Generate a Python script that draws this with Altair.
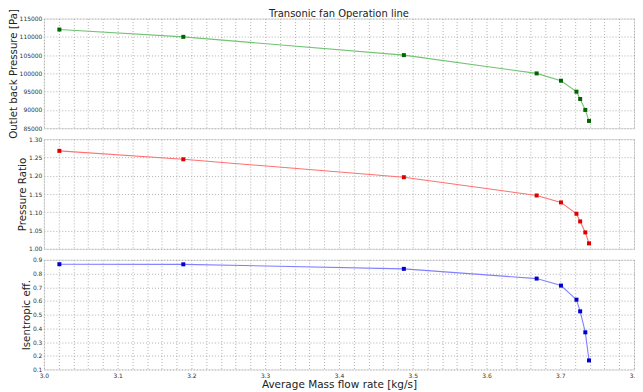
import altair as alt
import pandas as pd

mass_flow = [3.021, 3.189, 3.488, 3.668, 3.701, 3.722, 3.727, 3.734, 3.739]
back_pressure = [112000, 110000, 105000, 100000, 98000, 95000, 93000, 90000, 87000]
pressure_ratio = [1.268, 1.245, 1.196, 1.146, 1.127, 1.096, 1.075, 1.045, 1.015]
isen_eff = [0.868, 0.867, 0.834, 0.763, 0.712, 0.609, 0.524, 0.371, 0.166]
chart_title = ["Transonic fan Operation line"]

x_grid = [round(3.0 + 0.02 * i, 2) for i in range(41)]
p_ticks = [85000 + 5000 * i for i in range(7)]
pr_ticks = [round(1.0 + 0.05 * i, 2) for i in range(7)]
eff_ticks = [round(0.1 + 0.1 * i, 1) for i in range(9)]

df = pd.DataFrame({"x": mass_flow, "p": back_pressure, "pr": pressure_ratio, "eff": isen_eff})

W = 592
FONT = "DejaVu Sans"
GRID = dict(gridDash=[1, 2], gridColor="#a8a8a8", gridWidth=0.9)
label_expr = "abs(datum.value*10 - round(datum.value*10)) < 0.001 ? format(datum.value, '.1f') : ''"


def panel(field, line_color, pt_color, dom, ticks, fmt, ytitle, h, bottom=False, title=False):
    xaxis = alt.Axis(
        values=x_grid, labelExpr=label_expr, ticks=False, domain=False,
        labels=bottom, title="Average Mass flow rate [kg/s]" if bottom else None,
        labelFontSize=6, labelColor="#333", labelPadding=3, labelFlush=False,
        titleFontSize=10.5, titleFontWeight="normal", titlePadding=1, titleColor="#222",
        **GRID,
    )
    x = alt.X("x:Q", scale=alt.Scale(domain=[3.0, 3.8], nice=False, zero=False), axis=xaxis)
    y = alt.Y(
        f"{field}:Q",
        scale=alt.Scale(domain=dom, nice=False, zero=False),
        axis=alt.Axis(
            values=ticks, format=fmt, ticks=False, domain=False, title=ytitle,
            labelFontSize=6, labelColor="#333", labelPadding=2, labelFlush=False,
            titleFontSize=10.3, titleFontWeight="normal", titlePadding=1, titleColor="#222",
            **GRID,
        ),
    )
    base = alt.Chart(df).encode(x=x, y=y)
    line = base.mark_line(color=line_color, strokeWidth=1.1)
    pts = base.mark_point(shape="square", filled=True, color=pt_color, size=16, opacity=1)
    layers = [line, pts]
    if title:
        t = alt.Chart(pd.DataFrame({"t": chart_title})).mark_text(
            fontSize=10, font=FONT, color="#222", baseline="alphabetic", align="center"
        ).encode(text="t:N", x=alt.value(W / 2), y=alt.value(-1.5))
        layers.append(t)
    return alt.layer(*layers).properties(width=W, height=h)


c1 = panel("p", "#72c472", "#006400", [85000, 115000], p_ticks, "d", "Outlet back Pressure [Pa]", 110, title=True)
c2 = panel("pr", "#ff7070", "#dd0000", [1.0, 1.3], pr_ticks, ".2f", "Pressure Ratio", 110)
c3 = panel("eff", "#8080ff", "#0000cc", [0.1, 0.9], eff_ticks, ".1f", "Isentropic eff.", 110, bottom=True)

chart = alt.vconcat(c1, c2, c3, spacing=11, bounds="flush").properties(
    padding={"left": -1, "top": -1, "right": -5, "bottom": 0},
).configure_view(stroke="#8a8a8a", strokeWidth=1.2).configure(font=FONT)

chart.save("out.html", embed_options={"renderer": "svg", "actions": False})
